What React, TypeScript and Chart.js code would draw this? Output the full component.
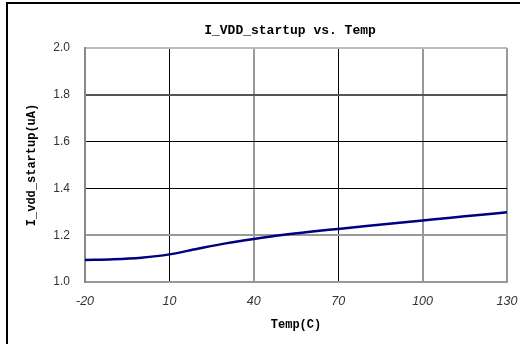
import React, { useEffect, useRef } from "react";
import { Chart, registerables } from "chart.js";

Chart.register(...registerables);

const temps = [-20, -10, 0, 10, 20, 30, 40, 50, 60, 70, 80, 90, 100, 110, 120, 130];
const currents = [1.094, 1.097, 1.104, 1.118, 1.142, 1.165, 1.184, 1.201, 1.215, 1.227, 1.239, 1.251, 1.263, 1.275, 1.286, 1.298];
const chartTitle = "I_VDD_startup vs. Temp";
const xTitle = "Temp(C)";
const yTitle = "I_vdd_startup(uA)";

const xGridColor = (v: number) => {
  if (v === 10 || v === 70) return "#000";
  if (v === -20) return "#888";
  return "#999";
};
const xGridWidth = (v: number) => (v === 10 || v === 70 ? 1 : 2);
const yGridColor = (v: number) => {
  const r = Math.round(v * 10) / 10;
  if (r === 1.6 || r === 1.4) return "#000";
  if (r === 1.8) return "#555";
  if (r === 2.0) return "#bbb";
  return "#999";
};
const yGridWidth = (v: number) => {
  const r = Math.round(v * 10) / 10;
  return r === 1.6 || r === 1.4 ? 1 : 2;
};

const frame = {
  id: "frame",
  afterLayout(chart: any) {
    if (chart.titleBlock) {
      chart.titleBlock.left -= 12;
    }
  },
  beforeDraw(chart: any) {
    const ctx = chart.ctx;
    ctx.save();
    ctx.fillStyle = "#fff";
    ctx.fillRect(0, 0, chart.width, chart.height);
    ctx.fillStyle = "#000";
    ctx.fillRect(6, 2, chart.width - 6, 2);
    ctx.fillRect(6, 2, 2, chart.height - 2);
    ctx.restore();
  },
};

export default function App() {
  const ref = useRef<HTMLCanvasElement>(null);
  useEffect(() => {
    if (!ref.current) return;
    const chart = new Chart(ref.current, {
      type: "line",
      data: {
        datasets: [
          {
            data: temps.map((t, i) => ({ x: t, y: currents[i] })),
            borderColor: "#000080",
            borderWidth: 2.5,
            pointRadius: 0,
            cubicInterpolationMode: "monotone",
            fill: false,
          },
        ],
      },
      options: {
        animation: false,
        responsive: false,
        maintainAspectRatio: false,
        layout: { padding: { top: 11, right: 0, bottom: 0, left: 0 } },
        plugins: {
          legend: { display: false },
          tooltip: { enabled: false },
          title: {
            display: true,
            fullSize: false,
            text: chartTitle,
            color: "#000",
            font: { family: "'Liberation Mono', monospace", size: 13, weight: "bold" },
            padding: { top: 12, bottom: 9.4 },
          },
        },
        scales: {
          x: {
            type: "linear",
            min: -20,
            max: 130,
            afterFit: (s: any) => { s.height = 62; s.paddingRight = 13; },
            ticks: {
              stepSize: 30,
              color: "#333",
              padding: 12,
              font: { family: "'Liberation Sans', Arial, sans-serif", size: 12.5, style: "italic" },
            },
            grid: {
              drawTicks: false,
              color: (c: any) => xGridColor(c.tick ? c.tick.value : 0),
              lineWidth: (c: any) => xGridWidth(c.tick ? c.tick.value : 0),
            },
            border: { color: "#999", width: 2 },
            title: {
              display: true,
              text: xTitle,
              color: "#000",
              font: { family: "'Liberation Mono', monospace", size: 12, weight: "bold" },
              padding: { top: 0, bottom: 11.8 },
            },
          },
          y: {
            type: "linear",
            min: 1,
            max: 2,
            afterFit: (s: any) => { s.width = 85; },
            ticks: {
              stepSize: 0.2,
              color: "#333",
              padding: 15,
              font: { family: "'Liberation Sans', Arial, sans-serif", size: 12 },
              callback: (v: any) => Number(v).toFixed(1),
            },
            grid: {
              drawTicks: false,
              color: (c: any) => yGridColor(c.tick ? c.tick.value : 0),
              lineWidth: (c: any) => yGridWidth(c.tick ? c.tick.value : 0),
            },
            border: { color: "#888", width: 2 },
            title: {
              display: true,
              text: yTitle,
              color: "#000",
              font: { family: "'Liberation Mono', monospace", size: 12, weight: "bold" },
              padding: { top: 24.8, bottom: 0 },
            },
          },
        },
      },
      plugins: [frame],
    });
    return () => chart.destroy();
  }, []);

  return (
    <div style={{ position: "fixed", left: 0, top: 0, width: 520, height: 344, background: "#fff", overflow: "hidden" }}>
      <canvas ref={ref} width={520} height={344} style={{ display: "block", width: 520, height: 344 }} />
    </div>
  );
}
